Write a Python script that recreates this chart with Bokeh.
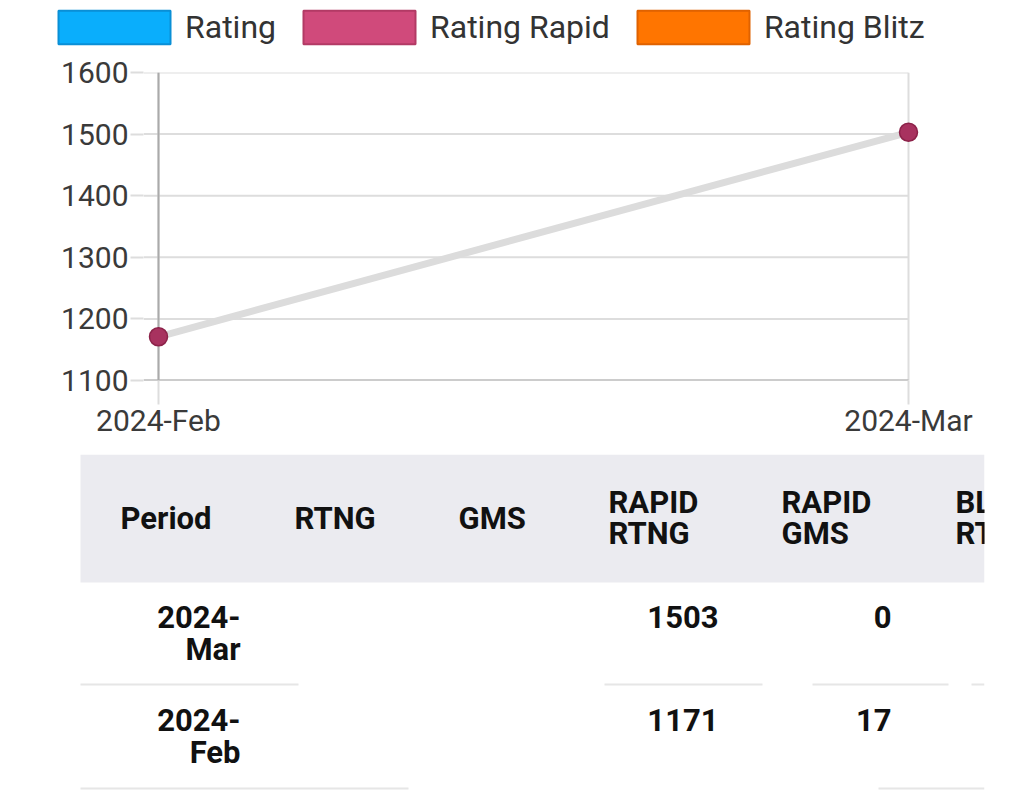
from bokeh.plotting import figure
from bokeh.models import Range1d, FixedTicker, Legend, LegendItem
from bokeh.embed import file_html
from bokeh.resources import INLINE
from bokeh.core.properties import value

# ---------------- data ----------------
periods = ["2024-Feb", "2024-Mar"]
rapid_rating = [1171, 1503]
rapid_games = [17, 0]
y_ticks = [1100, 1200, 1300, 1400, 1500, 1600]
series_names = ["Rating", "Rating Rapid", "Rating Blitz"]
series_fill = ["#0aaefc", "#d04a7b", "#ff7500"]
series_line = ["#0a8fd6", "#b23a65", "#e06200"]
header_labels = ["Period", "RTNG", "GMS", "RAPID\nRTNG", "RAPID\nGMS", "BLITZ\nRTNG"]

# ---------------- layout constants ----------------
W = 1016
LH = 50      # legend strip height
CH = 404     # chart height
TH = 348     # table height
PAD = 0.02
GRID = "#dddddd"
AXIS = "#aaaaaa"
FONT = value("Roboto")

xs = list(range(len(periods)))


def bare(fig):
    fig.outline_line_color = None
    fig.grid.visible = False
    fig.background_fill_color = "white"
    fig.border_fill_color = "white"


# ---------------- legend strip ----------------
lg = figure(width=W, height=LH, output_backend="svg", toolbar_location=None,
            x_range=Range1d(0, W), y_range=Range1d(0, LH),
            min_border_left=0, min_border_right=0, min_border_top=0,
            min_border_bottom=0, x_axis_location=None, y_axis_location=None)
bare(lg)
items = []
for name, fc, lc in zip(series_names, series_fill, series_line):
    r = lg.quad(left=[0], right=[0], top=[0], bottom=[0], fill_color=fc,
                line_color=lc, line_width=2)
    r.visible = False
    items.append(LegendItem(label=name, renderers=[r]))
legend = Legend(items=items, orientation="horizontal", location=(44, 2),
                padding=0, margin=0, spacing=13, glyph_width=140,
                glyph_height=42, label_standoff=1, click_policy="none",
                label_text_font="Roboto", label_text_font_size="32px",
                label_text_color="#333333", border_line_color=None,
                background_fill_alpha=0)
lg.add_layout(legend, "center")

# ---------------- chart ----------------
p = figure(width=W, height=CH, output_backend="svg", toolbar_location=None,
           x_range=Range1d(-PAD, xs[-1] + PAD),
           y_range=Range1d(y_ticks[0], y_ticks[-1]),
           min_border_left=143, min_border_right=W - 923,
           min_border_top=22, min_border_bottom=74)
p.outline_line_color = None
p.background_fill_color = "white"
p.border_fill_color = "white"

p.xaxis.ticker = FixedTicker(ticks=xs)
p.xaxis.major_label_overrides = {i: periods[i] for i in xs}
p.xaxis.axis_line_color = None
p.xaxis.major_tick_out = 24
p.xaxis.major_tick_in = 0
p.xaxis.major_tick_line_color = GRID
p.xaxis.major_tick_line_width = 2
p.xaxis.minor_tick_line_color = None
p.xaxis.major_label_standoff = -2
p.xaxis.major_label_text_font = "Roboto"
p.xaxis.major_label_text_font_size = "30px"
p.xaxis.major_label_text_color = "#3a3a3a"

p.yaxis.ticker = FixedTicker(ticks=y_ticks)
p.yaxis.axis_line_color = None
p.yaxis.major_tick_out = 13
p.yaxis.major_tick_in = 0
p.yaxis.major_tick_line_color = GRID
p.yaxis.major_tick_line_width = 2
p.yaxis.minor_tick_line_color = None
p.yaxis.major_label_standoff = 2
p.yaxis.major_label_text_font = "Roboto"
p.yaxis.major_label_text_font_size = "30px"
p.yaxis.major_label_text_color = "#3a3a3a"

p.xgrid.ticker = FixedTicker(ticks=xs)
p.xgrid.grid_line_color = GRID
p.xgrid.grid_line_width = 2
p.ygrid.grid_line_color = None
n = len(y_ticks)
p.segment(x0=[-PAD] * n, y0=y_ticks, x1=[xs[-1]] * n, y1=y_ticks,
          line_color=GRID, line_width=2)
p.segment(x0=[-PAD, xs[0]], y0=[y_ticks[0], y_ticks[0]],
          x1=[xs[-1], xs[0]], y1=[y_ticks[0], y_ticks[-1]],
          line_color=AXIS, line_width=2)

p.line(xs, rapid_rating, line_color="#dcdcdc", line_width=7)
p.scatter(xs, rapid_rating, size=18, fill_color="#a8325f",
          line_color="#8c2249", line_width=1.5)

# ---------------- table ----------------
t = figure(width=W, height=TH, output_backend="svg", toolbar_location=None,
           x_range=Range1d(0, 984), y_range=Range1d(TH, 0),
           min_border_left=0, min_border_right=W - 984, min_border_top=0,
           min_border_bottom=0, x_axis_location=None, y_axis_location=None)
bare(t)

t.quad(left=[80], right=[984], top=[0], bottom=[128], fill_color="#ebebf0",
       line_color=None)

TXT = dict(text_font=FONT, text_font_style="bold", text_font_size="31px",
           text_color="#111111", text_baseline="middle")

# header: each line drawn separately
header_x = [120, 294, 458, 608, 781, 955]
HC, HS = 63.5, 31
hx, hy, ht = [], [], []
for x, lab in zip(header_x, header_labels):
    lines = lab.split("\n")
    for k, ln in enumerate(lines):
        hx.append(x)
        hy.append(HC + (k - (len(lines) - 1) / 2) * HS)
        ht.append(ln)
t.text(x=hx, y=hy, text=ht, text_align="left", **TXT)

# rows (latest first)
order = list(reversed(xs))
row_y = [162 + 103 * k for k in range(len(order))]
RS = 33
px, py, pt = [], [], []
for y, i in zip(row_y, order):
    a, b = periods[i].split("-")
    px += [240, 240]
    py += [y, y + RS]
    pt += [a + "-", b]
t.text(x=px, y=py, text=pt, text_align="right", **TXT)
t.text(x=[718] * len(order), y=row_y, text=[str(rapid_rating[i]) for i in order],
       text_align="right", **TXT)
t.text(x=[891] * len(order), y=row_y, text=[str(rapid_games[i]) for i in order],
       text_align="right", **TXT)

sep_x0 = [80, 604, 812, 971, 80, 878]
sep_x1 = [298, 762, 948, 984, 408, 984]
sep_y = [230, 230, 230, 230, 334, 334]
t.segment(x0=sep_x0, y0=sep_y, x1=sep_x1, y1=sep_y, line_color="#e6e6e6",
          line_width=2)

open("out.html", "w").write(file_html([lg, p, t], INLINE))
